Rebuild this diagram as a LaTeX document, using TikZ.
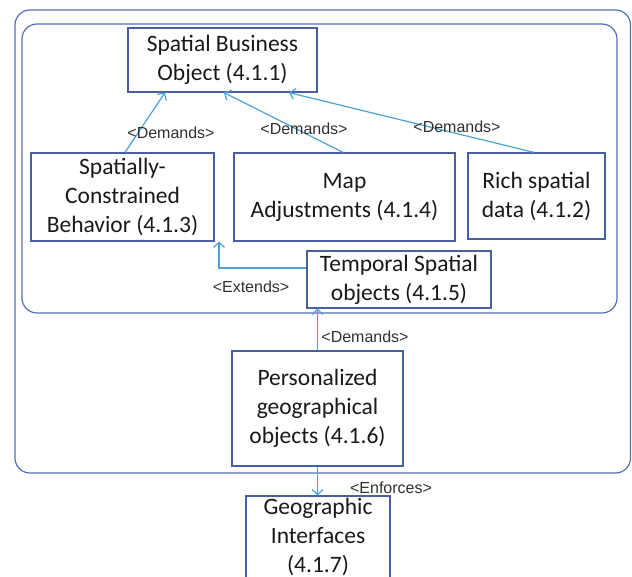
\documentclass[tikz,border=0pt]{standalone}
\usepackage{fontspec}
\setmainfont{Carlito}
\newfontfamily\labelfont{Liberation Sans}
\usetikzlibrary{arrows.meta}
\definecolor{boxc}{RGB}{72,96,160}
\definecolor{framec}{RGB}{82,112,176}
\definecolor{linkc}{RGB}{74,164,218}
\definecolor{txt}{RGB}{25,25,25}
\begin{document}
\begin{tikzpicture}[x=1pt,y=-1pt,
  box/.style={draw=boxc, line width=1.2pt, align=center, inner sep=0pt,
    text=txt, font=\fontsize{23.5}{29}\selectfont},
  frame/.style={draw=framec, line width=1.2pt, rounded corners=15pt},
  link/.style={draw=linkc, line width=1.2pt, -{Straight Barb[length=5pt,width=11pt]}},
  lbl/.style={text=txt!90, font=\labelfont\fontsize{16}{18}\selectfont, inner sep=0pt}]
\useasboundingbox (0,0) rectangle (632,576);
\clip (0,0) rectangle (632,576);

% outer and inner groupings
\draw[frame] (15,10) rectangle (630.5,473);
\draw[frame] (22,24) rectangle (617,313);

% boxes
\node[box, minimum width=189pt, minimum height=64pt] (sbo) at (222.5,60)
  {Spatial Business\\Object (4.1.1)};
\node[box, minimum width=183pt, minimum height=88pt] (scb) at (122.5,197)
  {Spatially-\\Constrained\\Behavior (4.1.3)};
\node[box, minimum width=221pt, minimum height=88pt] (map) at (344.5,197)
  {Map\\Adjustments (4.1.4)};
\node[box, minimum width=137pt, minimum height=86pt] (rich) at (536.5,196)
  {Rich spatial\\data (4.1.2)};
\node[box, minimum width=184pt, minimum height=57pt] (tso) at (399,279.5)
  {Temporal Spatial\\objects (4.1.5)};
\node[box, minimum width=171pt, minimum height=115pt] (pgo) at (317.5,408.5)
  {Personalized\\geographical\\objects (4.1.6)};
\node[box, minimum width=144pt, minimum height=82pt] (geo) at (318,537)
  {Geographic\\Interfaces\\(4.1.7)};

% relations
\draw[link] ([xshift=2.5pt]scb.north) -- ([xshift=-57.5pt]sbo.south);
\draw[link] ([xshift=-1.5pt]map.north) -- ([xshift=1.5pt]sbo.south);
\draw[link] ([xshift=-2.5pt]rich.north) -- ([xshift=66.5pt]sbo.south);
\draw[link] ([yshift=11.5pt]tso.west) -| ([xshift=96.5pt]scb.south);
\draw[link] (pgo.north) -- (pgo.north |- tso.south);
\draw[link] (pgo.south) -- (pgo.south |- geo.north);

% relation labels
\node[lbl] (l1) at (171,133) {<Demands>};
\node[lbl] (l2) at (304,129) {<Demands>};
\node[lbl] (l3) at (457,127) {<Demands>};
\node[lbl] (l4) at (251,287) {<Extends>};
\node[lbl] (l5) at (365,337) {<Demands>};
\node[lbl] (l6) at (391,488) {<Enforces>};
\end{tikzpicture}
\end{document}
